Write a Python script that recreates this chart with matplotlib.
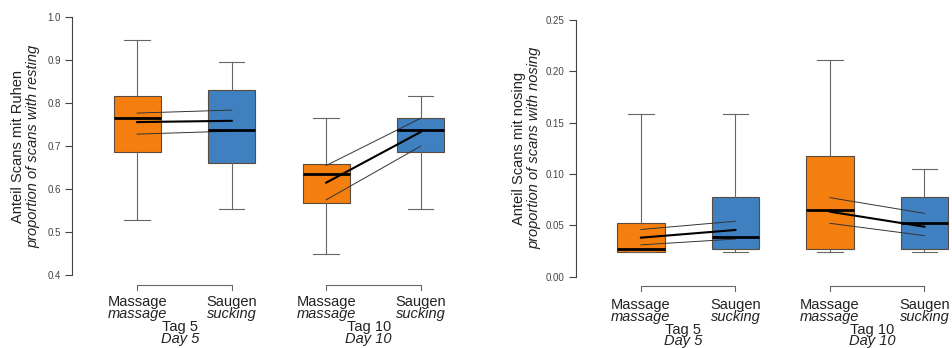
import matplotlib.pyplot as plt
from matplotlib.transforms import blended_transform_factory

plt.rcParams['font.family'] = ['Liberation Sans', 'DejaVu Sans']

# --- box statistics: lower whisker, Q1, median, Q3, upper whisker ---
groups = ['Massage Tag 5', 'Saugen Tag 5', 'Massage Tag 10', 'Saugen Tag 10']
rest_whislo = [0.529, 0.554, 0.448, 0.554]
rest_q1 = [0.686, 0.660, 0.568, 0.686]
rest_med = [0.765, 0.738, 0.635, 0.738]
rest_q3 = [0.816, 0.830, 0.658, 0.765]
rest_whishi = [0.948, 0.895, 0.765, 0.817]

nose_whislo = [0.024, 0.024, 0.024, 0.024]
nose_q1 = [0.024, 0.027, 0.027, 0.027]
nose_med = [0.027, 0.039, 0.065, 0.052]
nose_q3 = [0.052, 0.078, 0.118, 0.078]
nose_whishi = [0.158, 0.158, 0.211, 0.105]

# --- model estimates (massage -> sucking) per day: estimate, upper, lower ---
rest_est = [[0.756, 0.759], [0.615, 0.733]]
rest_upr = [[0.777, 0.784], [0.655, 0.765]]
rest_lwr = [[0.728, 0.735], [0.575, 0.700]]

nose_est = [[0.038, 0.0455], [0.0633, 0.0487]]
nose_upr = [[0.046, 0.054], [0.077, 0.0617]]
nose_lwr = [[0.031, 0.0367], [0.052, 0.040]]

# --- labels ---
cond_de = ['Massage', 'Saugen']
cond_en = ['massage', 'sucking']
day_de = ['Tag 5', 'Tag 10']
day_en = ['Day 5', 'Day 10']
rest_ticks = [0.4, 0.5, 0.6, 0.7, 0.8, 0.9, 1.0]
nose_ticks = [0.0, 0.05, 0.10, 0.15, 0.20, 0.25]

colors = ['#F57F0E', '#3F80C0', '#F57F0E', '#3F80C0']
positions = [1, 2, 3, 4]

W, H = 953, 348
fig = plt.figure(figsize=(W / 100, H / 100), dpi=100)


def panel(left_px, top_px, bottom_px, lo, hi, whislo, q1, med, q3, whishi,
          est, upr, lwr, ticks, ticklabels, ylab1, ylab2, ylab_x, lab_y):
    ax = fig.add_axes([left_px / W, 1 - bottom_px / H, 3.99 * 94.5 / W,
                       (bottom_px - top_px) / H])
    stats = []
    for i in range(4):
        stats.append(dict(whislo=whislo[i], q1=q1[i], med=med[i], q3=q3[i],
                          whishi=whishi[i], fliers=[]))
    bp = ax.bxp(stats, positions=positions, widths=0.5, capwidths=0.27,
                patch_artist=True,
                boxprops=dict(edgecolor='#5a4a40', linewidth=0.8),
                whiskerprops=dict(color='#666666', linewidth=0.8),
                capprops=dict(color='#666666', linewidth=0.8),
                medianprops=dict(color='black', linewidth=2))
    for patch, c in zip(bp['boxes'], colors):
        patch.set_facecolor(c)

    for d in range(2):
        xs = [positions[2 * d], positions[2 * d + 1]]
        ax.plot(xs, upr[d], color='#333333', linewidth=0.7)
        ax.plot(xs, lwr[d], color='#333333', linewidth=0.7)
        ax.plot(xs, est[d], color='black', linewidth=1.5)

    ax.set_xlim(0.31, 4.3)
    ax.set_ylim(lo, hi)
    for s in ['top', 'right', 'bottom']:
        ax.spines[s].set_visible(False)
    ax.spines['left'].set_bounds(lo, hi)
    ax.spines['left'].set_color('#444444')
    ax.spines['left'].set_linewidth(0.8)
    ax.set_xticks([])
    ax.set_yticks(ticks)
    ax.set_yticklabels(ticklabels, fontsize=7, color='#444444')
    ax.tick_params(axis='y', length=5, width=0.8, color='#444444', pad=3)

    fig.text(ylab_x / W, 1 - (top_px + bottom_px) / 2 / H, ylab1,
             rotation=90, ha='center', va='center', fontsize=10.5, color='#222222')
    fig.text((ylab_x + 15) / W, 1 - (top_px + bottom_px) / 2 / H, ylab2,
             rotation=90, ha='center', va='center', fontsize=10.5,
             style='italic', color='#222222')

    tr = blended_transform_factory(ax.transData, fig.transFigure)
    for d in range(2):
        x0, x1 = positions[2 * d], positions[2 * d + 1]
        yb = 1 - lab_y[0] / H
        yt = 1 - (lab_y[0] + 5) / H
        ax.plot([x0, x0, x1, x1], [yt, yb, yb, yt], transform=tr,
                color='#666666', linewidth=0.8, clip_on=False)
        for k, x in enumerate([x0, x1]):
            ax.text(x, 1 - lab_y[1] / H, cond_de[k], transform=tr,
                    ha='center', va='center', fontsize=10.5, color='#222222')
            ax.text(x, 1 - lab_y[2] / H, cond_en[k], transform=tr,
                    ha='center', va='center', fontsize=10.5, style='italic',
                    color='#222222')
        xm = (x0 + x1) / 2 - 0.05
        ax.text(xm, 1 - lab_y[3] / H, day_de[d], transform=tr,
                ha='center', va='center', fontsize=10.5, color='#222222')
        ax.text(xm, 1 - lab_y[4] / H, day_en[d], transform=tr,
                ha='center', va='center', fontsize=10.5, style='italic',
                color='#222222')
    return ax


panel(72, 17.3, 275, 0.4, 1.0, rest_whislo, rest_q1, rest_med, rest_q3,
      rest_whishi, rest_est, rest_upr, rest_lwr, rest_ticks,
      ['0.4', '0.5', '0.6', '0.7', '0.8', '0.9', '1.0'],
      'Anteil Scans mit Ruhen', 'proportion of scans with resting', 18,
      [285, 302, 314, 327, 339])

panel(575.7, 20, 276.7, 0.0, 0.25, nose_whislo, nose_q1, nose_med, nose_q3,
      nose_whishi, nose_est, nose_upr, nose_lwr, nose_ticks,
      ['0.00', '0.05', '0.10', '0.15', '0.20', '0.25'],
      'Anteil Scans mit nosing', 'proportion of scans with nosing', 519,
      [286, 305, 317, 330, 341])

fig.savefig('out.png', dpi=100)
